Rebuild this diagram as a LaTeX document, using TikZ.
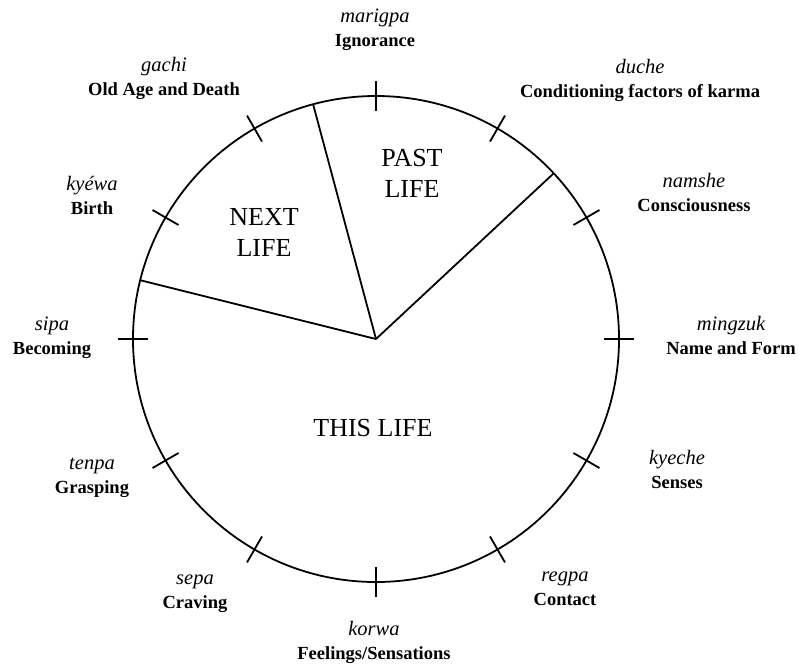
\documentclass[tikz,border=0pt]{standalone}
\usepackage{fontspec}
\setmainfont{Liberation Serif}
\newcommand\itl[1]{{\fontsize{20.5}{24}\selectfont\itshape #1}}
\newcommand\bfl[1]{{\fontsize{18.5}{24}\selectfont\bfseries #1}}
\begin{document}
\begin{tikzpicture}[x=1pt,y=1pt,
  wheel/.style={line width=1.8pt},
  tickmark/.style={line width=1.8pt},
  lab/.style={align=center, inner sep=0pt, font=\fontsize{18.5}{24}\selectfont},
  big/.style={align=center, inner sep=0pt, font=\fontsize{26}{31}\selectfont}]
\useasboundingbox (0,0) rectangle (799,-667);
\coordinate (c) at (376,-339);
\draw[wheel] (c) circle (243);
\foreach \a in {0,30,...,330}
  \draw[tickmark, shift={(c)}] (\a:228) -- (\a:258);
\draw[wheel] (c) -- ++(43:243) coordinate (p1);
\draw[wheel] (c) -- ++(105:243) coordinate (p2);
\draw[wheel] (c) -- ++(166:243) coordinate (p3);
\node[big] (past) at (412,-173) {PAST\\LIFE};
\node[big] (next) at (264,-232) {NEXT\\LIFE};
\node[big] (this) at (373,-428) {THIS LIFE};
\node[lab] (l1) at (375,-30) {\itl{marigpa}\\\bfl{Ignorance}};
\node[lab] (l2) at (640,-80) {\itl{duche}\\\bfl{Conditioning factors of karma}};
\node[lab] (l3) at (694,-192) {\itl{namshe}\\\bfl{Consciousness}};
\node[lab] (l4) at (731,-335) {\itl{mingzuk}\\\bfl{Name and Form}};
\node[lab] (l5) at (677,-469) {\itl{kyeche}\\\bfl{Senses}};
\node[lab] (l6) at (565,-589) {\itl{regpa}\\\bfl{Contact}};
\node[lab] (l7) at (374,-642) {\itl{korwa}\\\bfl{Feelings/Sensations}};
\node[lab] (l8) at (195,-594) {\itl{sepa}\\\bfl{Craving}};
\node[lab] (l9) at (92,-478) {\itl{tenpa}\\\bfl{Grasping}};
\node[lab] (l10) at (52,-338) {\itl{sipa}\\\bfl{Becoming}};
\node[lab] (l11) at (92,-195) {\itl{kyéwa}\\\bfl{Birth}};
\node[lab] (l12) at (164,-78) {\itl{gachi}\\\bfl{Old Age and Death}};
\end{tikzpicture}
\end{document}
